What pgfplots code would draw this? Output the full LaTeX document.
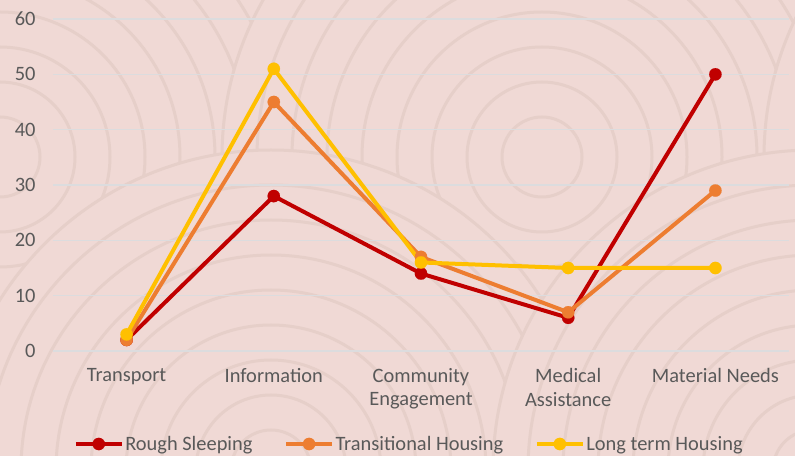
\documentclass[border=0pt]{standalone}
\usepackage{pgfplots}
\pgfplotsset{compat=1.18}
\usepackage{fontspec}
\setmainfont{Carlito}
\definecolor{bgc}{HTML}{F0D9D5}
\definecolor{ringc}{HTML}{E6CFC9}
\definecolor{gridc}{HTML}{DCDCDE}
\definecolor{tickc}{HTML}{595959}
\definecolor{rough}{HTML}{C00000}
\definecolor{trans}{HTML}{ED7D31}
\definecolor{longt}{HTML}{FFC000}
\newcommand{\ringgroup}[2]{%
  \foreach \r in {320,285,250,215,180,145,110,75,40}{%
    \filldraw[fill=bgc,draw=ringc,line width=3bp] (#1bp,#2bp) circle (\r bp);}%
}
\begin{document}
\begin{tikzpicture}
\path[use as bounding box] (0,0) rectangle (795bp,456bp);
\begin{scope}
\clip (0,0) rectangle (795bp,456bp);
\fill[bgc] (0,0) rectangle (795bp,456bp);
\ringgroup{271}{613}
\ringgroup{813}{613}
\ringgroup{0}{299}
\ringgroup{542}{299}
\ringgroup{1084}{299}
\ringgroup{271}{-14}
\ringgroup{813}{-14}
\end{scope}
\begin{axis}[
  at={(53bp,105bp)}, anchor=south west,
  scale only axis, width=736bp, height=332bp,
  xmin=-0.5, xmax=4.5, ymin=0, ymax=60,
  ytick={0,10,...,60},
  xtick={0,1,2,3,4},
  xticklabels={Transport,Information,Community\\Engagement,Medical\\Assistance,Material Needs},
  xticklabel style={align=center, text=tickc, font=\fontsize{20.5}{23.5}\selectfont, anchor=north, yshift=-14bp},
  yticklabel style={text=tickc, font=\fontsize{20.5}{23.5}\selectfont, xshift=-14bp},
  /pgf/number format/assume math mode=true,
  axis line style={draw=none},
  major tick length=0pt,
  ymajorgrids, grid style={gridc, line width=1.5bp},
  clip=false,
  legend columns=3,
  legend style={at={(0.5,0)}, anchor=center, yshift=-93bp, xshift=-12bp, draw=none, fill=none,
    font=\fontsize{20.5}{23.5}\selectfont, text=tickc, nodes={inner sep=1.5bp},
    /tikz/every even column/.append style={column sep=30bp}},
  legend image code/.code={\draw[mark repeat=2,mark phase=2,#1] plot coordinates {(0bp,0bp) (23bp,0bp) (46bp,0bp)};},
  every axis plot/.append style={line width=4bp, mark=*, mark size=6.2bp, mark options={solid, line width=0.1bp}},
]
\addplot[rough] coordinates {(0,2) (1,28) (2,14) (3,6) (4,50)};
\addlegendentry{Rough Sleeping}
\addplot[trans] coordinates {(0,2) (1,45) (2,17) (3,7) (4,29)};
\addlegendentry{Transitional Housing}
\addplot[longt] coordinates {(0,3) (1,51) (2,16) (3,15) (4,15)};
\addlegendentry{Long term Housing}
\end{axis}
\end{tikzpicture}
\end{document}
